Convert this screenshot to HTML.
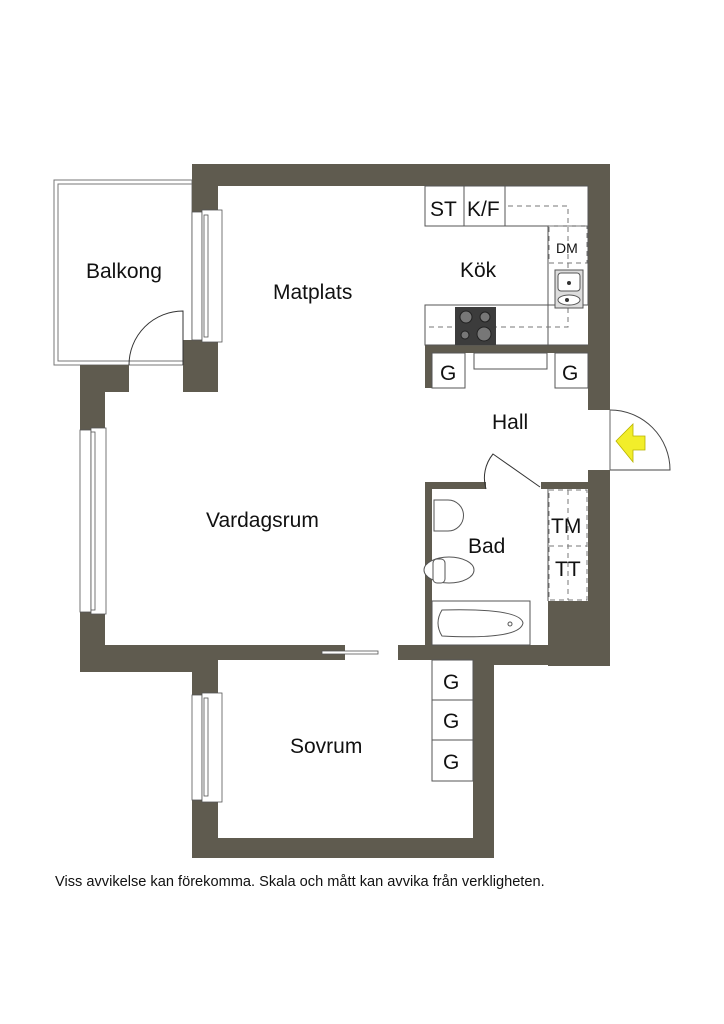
<!DOCTYPE html>
<html><head><meta charset="utf-8"><style>
body{margin:0;background:#fff}
svg{display:block}
text{font-family:"Liberation Sans",Arial,sans-serif;fill:#111}
</style></head><body>
<svg width="724" height="1024" viewBox="0 0 724 1024" xmlns="http://www.w3.org/2000/svg">
<rect width="724" height="1024" fill="#fff"/>
<rect x="54" y="180" width="138" height="185" fill="none" stroke="#777" stroke-width="1"/>
<rect x="58" y="184" width="134" height="177" fill="none" stroke="#777" stroke-width="1"/>
<g fill="#5f5b4f">
<rect x="192" y="164" width="418" height="22"/>
<rect x="192" y="164" width="26" height="48"/>
<rect x="183" y="340" width="35" height="52"/>
<rect x="588" y="164" width="22" height="246"/>
<rect x="588" y="470" width="22" height="196"/>
<rect x="548" y="601" width="62" height="65"/>
<rect x="80" y="365" width="49" height="27"/>
<rect x="80" y="365" width="25" height="65"/>
<rect x="80" y="612" width="25" height="60"/>
<rect x="80" y="645" width="265" height="15"/>
<rect x="80" y="645" width="138" height="27"/>
<rect x="398" y="645" width="212" height="15"/>
<rect x="473" y="645" width="137" height="20"/>
<rect x="192" y="660" width="26" height="35"/>
<rect x="192" y="800" width="26" height="58"/>
<rect x="192" y="838" width="302" height="20"/>
<rect x="473" y="660" width="21" height="198"/>
<rect x="425" y="345" width="163" height="8"/>
<rect x="425" y="345" width="7" height="43"/>
<rect x="425" y="482" width="61" height="7"/>
<rect x="541" y="482" width="47" height="7"/>
<rect x="425" y="482" width="7" height="163"/>
</g>
<g fill="#fff" stroke="#555" stroke-width="0.8">
<rect x="192" y="212" width="10" height="128"/><rect x="202" y="210" width="20" height="132"/>
<rect x="204" y="215" width="4" height="122"/>
<rect x="80" y="430" width="11" height="182"/><rect x="91" y="428" width="15" height="186"/>
<rect x="91" y="432" width="4" height="178"/>
<rect x="192" y="695" width="10" height="105"/><rect x="202" y="693" width="20" height="109"/>
<rect x="204" y="698" width="4" height="98"/>
</g>
<path d="M129 365 A54 54 0 0 1 183 311 L183 365" fill="none" stroke="#333" stroke-width="1"/>
<g fill="#fff" stroke="#555" stroke-width="1">
<rect x="425" y="186" width="163" height="40"/>
<line x1="464" y1="186" x2="464" y2="226"/><line x1="505" y1="186" x2="505" y2="226"/>
<rect x="548" y="226" width="40" height="79"/>
<rect x="425" y="305" width="123" height="40"/>
<line x1="548" y1="305" x2="548" y2="345"/><line x1="548" y1="345" x2="588" y2="345"/>
<rect x="432" y="353" width="33" height="35"/>
<rect x="555" y="353" width="33" height="35"/>
<rect x="474" y="353" width="73" height="16"/>
</g>
<g fill="none" stroke="#777" stroke-width="1" stroke-dasharray="5,4">
<path d="M508 206 H568 V327 H425"/>
<rect x="549" y="226" width="38" height="37"/>
<rect x="549" y="490" width="38" height="110"/>
<line x1="549" y1="546" x2="587" y2="546"/>
<line x1="568" y1="490" x2="568" y2="600"/>
</g>
<rect x="555" y="270" width="28" height="38" fill="#ddd" stroke="#555"/>
<rect x="558" y="273" width="22" height="18" rx="3" fill="#fff" stroke="#555"/>
<ellipse cx="569" cy="300" rx="11" ry="5" fill="#fff" stroke="#555"/>
<circle cx="569" cy="283" r="2" fill="#333"/><circle cx="567" cy="300" r="2" fill="#333"/>
<rect x="455" y="307" width="41" height="38" fill="#3c3c3c"/>
<circle cx="466" cy="317" r="6" fill="#777" stroke="#222"/>
<circle cx="485" cy="317" r="5" fill="#777" stroke="#222"/>
<circle cx="465" cy="335" r="4" fill="#777" stroke="#222"/>
<circle cx="484" cy="334" r="7" fill="#777" stroke="#222"/>
<path d="M610 410 A60 60 0 0 1 670 470 L610 470" fill="none" stroke="#444" stroke-width="1"/>
<line x1="610" y1="410" x2="610" y2="470" stroke="#666"/>
<path d="M616 441 L633 424 V436 H645 V450 H633 V462 Z" fill="#f2ee2a" stroke="#b8b300" stroke-width="0.8"/>
<path d="M486 489 A38 38 0 0 1 493 454 L540 487" fill="none" stroke="#333"/>
<g fill="#fff" stroke="#555" stroke-width="1">
<path d="M434 500 h14 a14 14 0 0 1 0 31 h-14 z"/>
<ellipse cx="449" cy="570" rx="25" ry="13"/>
<rect x="433" y="559" width="12" height="24" rx="4"/>
<rect x="432" y="601" width="98" height="44"/>
<path d="M442 610 Q520 608 523 623 Q520 640 442 636 Q434 623 442 610 Z"/>
<circle cx="510" cy="624" r="2"/>
</g>
<line x1="548" y1="489" x2="548" y2="601" stroke="#555"/>
<rect x="322" y="651" width="56" height="3" fill="#fff" stroke="#555" stroke-width="0.8"/>
<g fill="#fff" stroke="#555">
<rect x="432" y="660" width="41" height="40"/>
<rect x="432" y="700" width="41" height="40"/>
<rect x="432" y="740" width="41" height="41"/>
</g>
<text x="86" y="278" font-size="21">Balkong</text>
<text x="273" y="299" font-size="21">Matplats</text>
<text x="460" y="277" font-size="21">Kök</text>
<text x="430" y="216" font-size="21">ST</text>
<text x="467" y="216" font-size="21">K/F</text>
<text x="556" y="253" font-size="14">DM</text>
<text x="440" y="380" font-size="21">G</text>
<text x="562" y="380" font-size="21">G</text>
<text x="492" y="429" font-size="21">Hall</text>
<text x="206" y="527" font-size="21">Vardagsrum</text>
<text x="468" y="553" font-size="21">Bad</text>
<text x="551" y="533" font-size="21">TM</text>
<text x="555" y="576" font-size="21">TT</text>
<text x="290" y="753" font-size="21">Sovrum</text>
<text x="443" y="689" font-size="21">G</text>
<text x="443" y="728" font-size="21">G</text>
<text x="443" y="769" font-size="21">G</text>
<text x="55" y="886" font-size="14.6">Viss avvikelse kan förekomma. Skala och mått kan avvika från verkligheten.</text>
</svg>
</body></html>
